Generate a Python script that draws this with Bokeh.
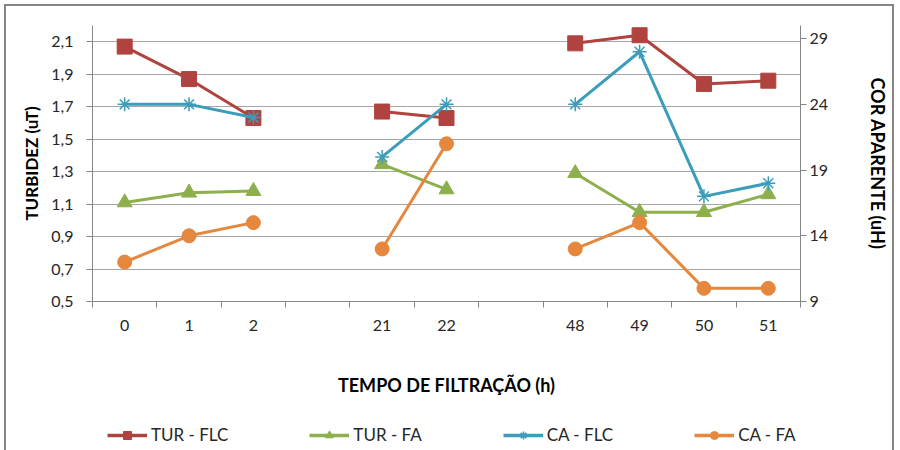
from bokeh.plotting import figure
from bokeh.layouts import column
from bokeh.models import Range1d, LinearAxis, FixedTicker, Legend, LegendItem
from bokeh.embed import file_html
from bokeh.resources import INLINE

nan = float("nan")
categories = ["0", "1", "2", "", "21", "22", "", "48", "49", "50", "51"]
tur_flc = [2.07, 1.87, 1.63, nan, 1.67, 1.63, nan, 2.09, 2.14, 1.84, 1.86]
tur_fa = [1.11, 1.17, 1.18, nan, 1.345, 1.19, nan, 1.29, 1.05, 1.05, 1.16]
ca_flc = [24, 24, 23, nan, 20, 24, nan, 24, 28, 17, 18]
ca_fa = [12, 14, 15, nan, 13, 21, nan, 13, 15, 10, 10]
left_ticks = [0.5, 0.7, 0.9, 1.1, 1.3, 1.5, 1.7, 1.9, 2.1]
right_ticks = [9, 14, 19, 24, 29]
series_names = ["TUR - FLC", "TUR - FA", "CA - FLC", "CA - FA"]

FONT = "Lato"
x = [i + 0.5 for i in range(len(categories))]
bounds = [i for i in range(len(categories) + 1)]
BORDER = "2px solid #868686"

p = figure(width=890, height=401, output_backend="svg", toolbar_location=None,
           x_range=Range1d(0, len(categories)), y_range=Range1d(0.5, 2.2),
           min_border_left=86, min_border_right=96, min_border_top=19, min_border_bottom=106)
p.styles = {"border-left": BORDER, "border-top": BORDER, "border-right": BORDER}
p.outline_line_color = None
p.extra_y_ranges = {"cor": Range1d(9, 30)}

grid_col = "#a6a6a6"
axis_col = "#868686"
p.xgrid.grid_line_color = None
p.ygrid.grid_line_color = grid_col
p.ygrid.ticker = FixedTicker(ticks=left_ticks)

# x axis
xa = p.xaxis[0]
xa.ticker = FixedTicker(ticks=x, minor_ticks=bounds)
xa.major_label_overrides = {xx: c for xx, c in zip(x, categories)}
xa.major_tick_out = 0
xa.major_tick_in = 0
xa.minor_tick_out = 6
xa.minor_tick_in = 0
xa.minor_tick_line_color = axis_col
xa.axis_line_color = axis_col
xa.major_label_standoff = 12
xa.axis_label = "TEMPO DE FILTRAÇÃO (h)"
xa.axis_label_standoff = 40

# left axis
ya = p.yaxis[0]
ya.ticker = FixedTicker(ticks=left_ticks)
ya.major_label_overrides = {t: f"{t:.1f}".replace(".", ",") for t in left_ticks}
ya.major_tick_out = 6
ya.major_tick_in = 0
ya.major_tick_line_color = axis_col
ya.minor_tick_line_color = None
ya.axis_line_color = axis_col
ya.major_label_standoff = 13
ya.axis_label = "TURBIDEZ (uT)"
ya.axis_label_standoff = 6

# right axis
ra = LinearAxis(y_range_name="cor", ticker=FixedTicker(ticks=right_ticks),
                axis_label="COR APARENTE (uH)")
ra.major_tick_out = 6
ra.major_tick_in = 0
ra.major_tick_line_color = axis_col
ra.minor_tick_line_color = None
ra.axis_line_color = axis_col
ra.major_label_standoff = 3
ra.axis_label_standoff = 36
p.add_layout(ra, "right")

for ax in [xa, ya, ra]:
    ax.major_label_text_font = FONT
    ax.major_label_text_font_size = "16px"
    ax.major_label_text_color = "#262626"
    ax.axis_label_text_font = FONT
    ax.axis_label_text_font_size = "18px"
    ax.axis_label_text_font_style = "bold"
    ax.axis_label_text_color = "#000000"
ya.axis_label_text_font_size = "17px"

colors = ["#b0433f", "#8db04c", "#3b9dba", "#e5873c"]
markers = ["square", "triangle", "asterisk", "circle"]
sizes = [15, 15, 14, 14]
data = [tur_flc, tur_fa, ca_flc, ca_fa]
ranges = ["default", "default", "cor", "cor"]

for d, c, m, s, rn in zip(data, colors, markers, sizes, ranges):
    p.line(x, d, line_color=c, line_width=3, y_range_name=rn)
    p.scatter(x, d, marker=m, size=s, fill_color=c, line_color=c,
              line_width=1.5 if m == "asterisk" else 1, y_range_name=rn)

# legend strip (its series lie outside its visible range; only the legend shows)
q = figure(width=890, height=45, output_backend="svg", toolbar_location=None,
           x_range=Range1d(0, len(categories)), y_range=Range1d(100, 101), min_border=0,
           x_axis_location=None, y_axis_location=None)
q.styles = {"border-left": BORDER, "border-right": BORDER}
q.outline_line_color = None
q.xgrid.grid_line_color = None
q.ygrid.grid_line_color = None

items = []
for name, d, c, m in zip(series_names, data, colors, markers):
    lr = q.line(x, d, line_color=c, line_width=3.5)
    sr = q.scatter(x, d, marker=m, size=12, fill_color=c, line_color=c,
                   line_width=1.5 if m == "asterisk" else 1)
    items.append(LegendItem(label=name, renderers=[lr, sr]))

legend = Legend(items=items, orientation="horizontal", location=(15, 5), spacing=81,
                glyph_width=40, glyph_height=20, label_standoff=4, padding=0, margin=0,
                border_line_color=None, background_fill_alpha=0, label_text_font=FONT,
                label_text_font_size="17px", label_text_color="#262626")
q.add_layout(legend, "center")

layout = column(p, q, spacing=0)
layout.styles = {"margin-left": "4px", "margin-top": "4px"}

open("out.html", "w").write(file_html(layout, INLINE))
